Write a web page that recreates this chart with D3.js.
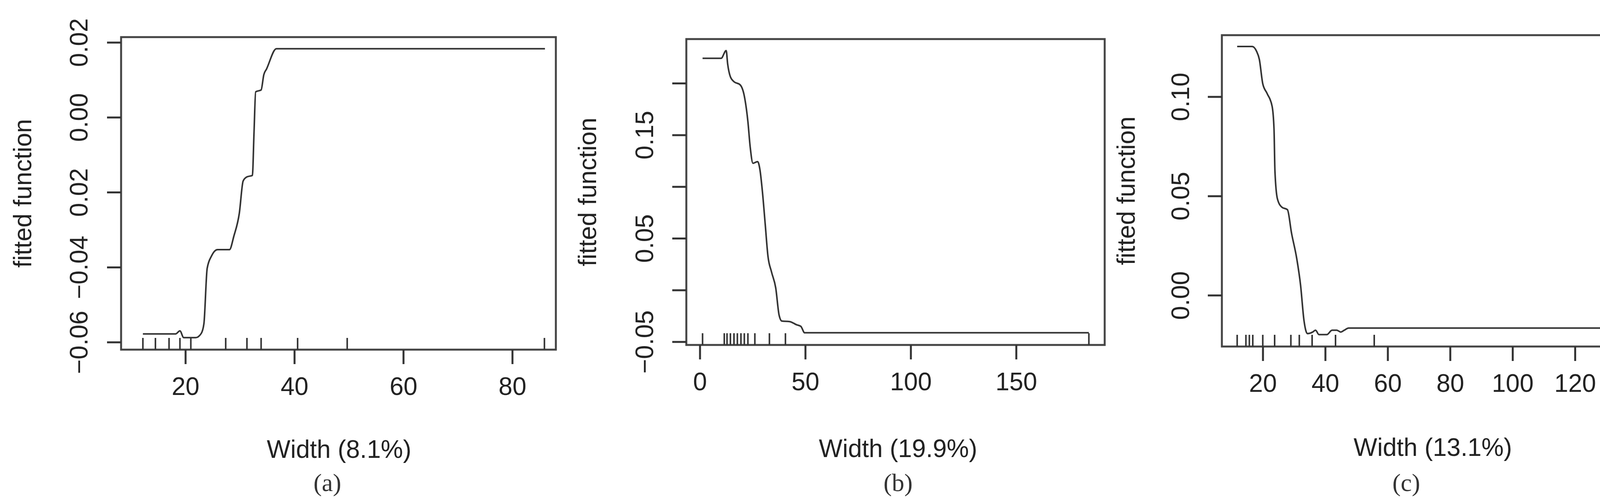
<!DOCTYPE html>
<html><head><meta charset="utf-8">
<script src="https://cdn.jsdelivr.net/npm/d3@7"></script>
<style>body{margin:0;background:#fff}svg{display:block}</style>
</head><body><svg id="c" width="4263" height="1285"></svg>
<script>
// Panel (a)
const aX=[12.2,18.2,19.0,19.7,21.9,22.9,23.4,24.0,24.8,25.9,28.1,28.9,29.9,30.6,31.3,32.3,32.6,32.9,33.9,34.4,34.9,36.7,86.0];
const aY=[-0.0578,-0.0578,-0.0570,-0.0588,-0.0588,-0.0577,-0.0551,-0.0403,-0.0370,-0.0353,-0.0353,-0.0317,-0.0256,-0.0170,-0.0159,-0.0155,-0.0040,0.0068,0.0073,0.0114,0.0129,0.0183,0.0183];
const aRug=[12.2,14.5,17,19,21,27.4,31.3,33.9,40.6,49.7,85.9];
const aXTicks=[20,40,60,80];
const aYTicks=[0.02,0.00,-0.02,-0.04,-0.06];
const aYLabels=["0.02","0.00","0.02","\u22120.04","\u22120.06"];
// Panel (b)
const bX=[1.3,10.1,12.5,13.2,14.5,16.2,19.1,21.1,22.8,23.9,25.2,27.4,28.5,29.7,31.0,32.3,34,36,37.6,38.9,42.6,45.9,47.9,49.7,184.5];
const bY=[0.2241,0.2241,0.2316,0.2186,0.2062,0.2015,0.1985,0.1876,0.1629,0.1381,0.1226,0.1242,0.1165,0.0948,0.0639,0.0329,0.0175,0.002,-0.0243,-0.0300,-0.0305,-0.0336,-0.0351,-0.0413,-0.0413];
const bRug=[1.3,11.6,12.9,14.5,16.2,17.8,19.5,21.1,22.8,26.1,33,40.6,184.5];
const bXTicks=[0,50,100,150];
const bYTicks=[0.20,0.15,0.10,0.05,0.00,-0.05];
const bYLabels=["","0.15","","0.05","","\u22120.05"];
// Panel (c)
const cX=[11.8,16.6,18,18.9,20,21.4,23,23.6,23.9,24.7,26.1,27.9,29.2,30.9,32.1,33.2,34.3,36,36.9,38,40.5,42.2,43.7,45,46.1,47.5,136.3];
const cY=[0.1253,0.1253,0.1229,0.1188,0.1065,0.1016,0.0951,0.0837,0.0624,0.0485,0.0444,0.0431,0.0314,0.0183,0.0052,-0.0127,-0.0193,-0.0185,-0.0176,-0.0198,-0.0198,-0.0176,-0.0176,-0.0185,-0.0176,-0.0165,-0.0165];
const cRug=[11.8,14.6,15.7,16.8,20,23.8,29,31.7,35.8,43.3,55.7,136.3];
const cXTicks=[20,40,60,80,100,120,140];
const cYTicks=[0.10,0.05,0.00];
const cYLabels=["0.10","0.05","0.00"];

const svg=d3.select("#c");
const FS=64, FONT="'Liberation Sans',Arial,sans-serif";
function panel(o){
  const g=svg.append("g");
  const x=d3.scaleLinear().domain(o.xd).range([o.L,o.R]);
  const y=d3.scaleLinear().domain(o.yd).range([o.B,o.T]);
  g.append("rect").attr("x",o.L).attr("y",o.T).attr("width",o.R-o.L).attr("height",o.B-o.T)
    .attr("fill","none").attr("stroke","#444").attr("stroke-width",5);
  const xa=g.append("g").attr("transform",`translate(0,${o.B})`)
    .call(d3.axisBottom(x).tickValues(o.xt).tickSize(37).tickPadding(34).tickFormat(d3.format("d")));
  xa.select(".domain").remove();
  xa.selectAll("line").attr("stroke","#333").attr("stroke-width",5);
  xa.selectAll("text").attr("font-size",FS).attr("font-family",FONT).attr("fill","#222");
  const ya=g.append("g").attr("transform",`translate(${o.L},0)`)
    .call(d3.axisLeft(y).tickValues(o.yt).tickSize(36).tickFormat((d,i)=>o.yl[i]));
  ya.select(".domain").remove();
  ya.selectAll("line").attr("stroke","#333").attr("stroke-width",5);
  ya.selectAll("text").attr("font-size",FS).attr("font-family",FONT).attr("fill","#222")
    .attr("text-anchor","middle").attr("dy",null).attr("x",null)
    .attr("dominant-baseline","central")
    .attr("transform",`translate(${o.ylx-o.L},0) rotate(-90)`);
  g.append("g").selectAll("line").data(o.rug).join("line")
    .attr("x1",d=>x(d)).attr("x2",d=>x(d)).attr("y1",o.B).attr("y2",o.B-30)
    .attr("stroke","#333").attr("stroke-width",4);
  g.append("path").datum(d3.zip(o.xs,o.ys))
    .attr("d",d3.line().x(d=>x(d[0])).y(d=>y(d[1])).curve(d3.curveMonotoneX))
    .attr("fill","none").attr("stroke","#333").attr("stroke-width",4);
  g.append("text").attr("transform",`translate(${o.ffx},${(o.T+o.B)/2}) rotate(-90)`)
    .attr("text-anchor","middle").attr("dominant-baseline","central")
    .attr("font-size",FS).attr("font-family",FONT).attr("fill","#222").text("fitted function");
  g.append("text").attr("x",o.tx).attr("y",o.ty).attr("text-anchor","middle").attr("dominant-baseline","central")
    .attr("font-size",FS).attr("font-family",FONT).attr("fill","#222").text(o.title);
  g.append("text").attr("x",o.sx).attr("y",o.sy).attr("text-anchor","middle").attr("dominant-baseline","central")
    .attr("font-size",FS).attr("font-family","'Liberation Serif','DejaVu Serif',serif").attr("fill","#333").text(o.sub);
}
panel({L:310,R:1423,T:95,B:895,xd:[8.2,88.0],yd:[-0.062,0.0214],xs:aX,ys:aY,rug:aRug,xt:aXTicks,yt:aYTicks,yl:aYLabels,
  ylx:202,ffx:58,tx:868,ty:1150,title:"Width  (8.1%)",sx:838,sy:1235,sub:"(a)"});
panel({L:1757,R:2828,T:100,B:883,xd:[-6.4,192],yd:[-0.0531,0.2427],xs:bX,ys:bY,rug:bRug,xt:bXTicks,yt:bYTicks,yl:bYLabels,
  ylx:1650,ffx:1504,tx:2299,ty:1148,title:"Width  (19.9%)",sx:2299,sy:1235,sub:"(b)"});
panel({L:3128,R:4203,T:90,B:887,xd:[6.9,141.4],yd:[-0.0258,0.1310],xs:cX,ys:cY,rug:cRug,xt:cXTicks,yt:cYTicks,yl:cYLabels,
  ylx:3022,ffx:2883,tx:3668,ty:1145,title:"Width  (13.1%)",sx:3600,sy:1235,sub:"(c)"});
</script></body></html>
